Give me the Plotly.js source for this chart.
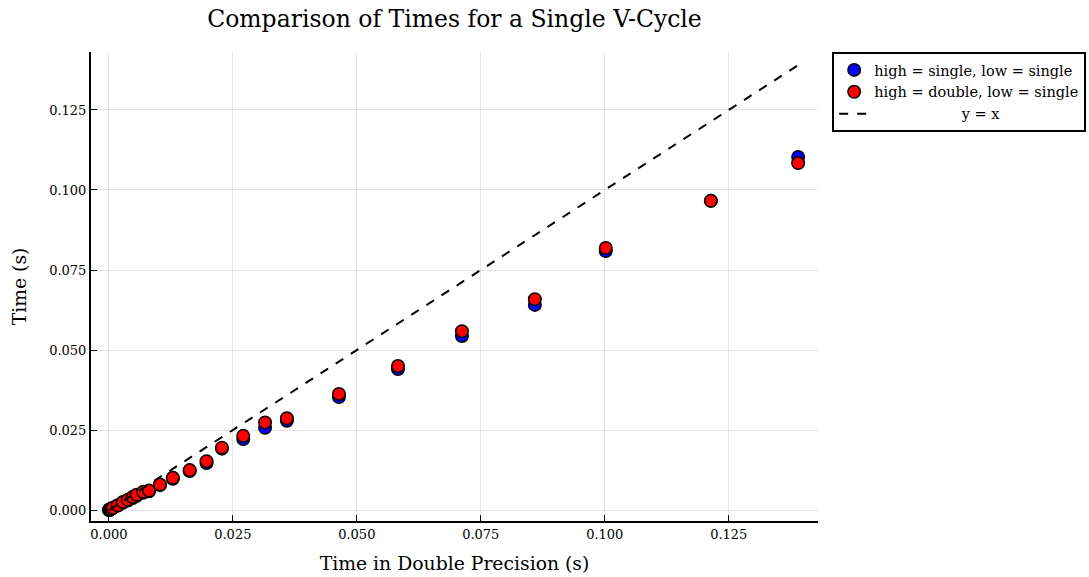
<!DOCTYPE html>
<html>
<head>
<meta charset="utf-8">
<script src="https://cdn.plot.ly/plotly-3.0.1.min.js"></script>
<style>html,body{margin:0;padding:0;background:#fff;}#chart{width:1089px;height:577px;}</style>
</head>
<body>
<div id="chart"></div>
<script>
// Time in double precision (s)
const xDouble = [0.00005, 0.0001, 0.0002, 0.0003, 0.0005, 0.0008, 0.0018, 0.0028, 0.0038, 0.0048, 0.0056, 0.0069, 0.0081, 0.0103, 0.0129, 0.0163, 0.0197, 0.0228, 0.0271, 0.0315, 0.0359, 0.0464, 0.0583, 0.0712, 0.0859, 0.1002, 0.1214, 0.1390];
// high = single, low = single
const ySingleSingle = [0.00005, 0.0001, 0.0002, 0.0003, 0.0004, 0.0007, 0.0014, 0.0023, 0.0030, 0.0038, 0.0045, 0.0054, 0.0059, 0.0078, 0.0098, 0.0122, 0.0147, 0.0192, 0.0222, 0.0257, 0.0279, 0.0353, 0.0441, 0.0544, 0.0641, 0.0809, 0.0966, 0.1103];
// high = double, low = single
const yDoubleSingle = [0.00005, 0.0001, 0.0002, 0.0003, 0.0004, 0.0007, 0.0015, 0.0025, 0.0032, 0.0041, 0.0048, 0.0057, 0.0061, 0.0080, 0.0101, 0.0125, 0.0153, 0.0195, 0.0232, 0.0274, 0.0287, 0.0363, 0.0450, 0.0559, 0.0659, 0.0819, 0.0966, 0.1084];
// reference line y = x
const lineX = [0, 0.1390];
const lineY = [0, 0.1390];
const tickVals = [0, 0.025, 0.05, 0.075, 0.1, 0.125];
const tickText = ["0.000", "0.025", "0.050", "0.075", "0.100", "0.125"];
const seriesNames = ["high = single, low = single", "high = double, low = single", "y = x"];

const FONT = "DejaVu Serif, serif";
const pad = "\u00a0".repeat(19);
const traces = [
  {x: xDouble, y: ySingleSingle, type: "scatter", mode: "markers", name: seriesNames[0],
   marker: {color: "#0000ff", size: 12.5, line: {color: "#000", width: 1.5}}},
  {x: xDouble, y: yDoubleSingle, type: "scatter", mode: "markers", name: seriesNames[1],
   marker: {color: "#ff0000", size: 12.5, line: {color: "#000", width: 1.5}}},
  {x: lineX, y: lineY, type: "scatter", mode: "lines", name: pad + seriesNames[2],
   line: {color: "#000", width: 2, dash: "dash"}}
];

const axisCommon = {
  showline: true, linecolor: "#000", linewidth: 2, mirror: false,
  showgrid: true, gridcolor: "rgba(0,0,0,0.1)", gridwidth: 1,
  zeroline: false, ticks: "inside", ticklen: 6, tickcolor: "#000", tickwidth: 1,
  tickvals: tickVals, ticktext: tickText,
  tickfont: {family: FONT, size: 13, color: "#000"}
};

const layout = {
  width: 1089, height: 577,
  paper_bgcolor: "#fff", plot_bgcolor: "#fff",
  margin: {l: 91, r: 271, t: 52, b: 56, autoexpand: false},
  title: {text: "Comparison of Times for a Single V-Cycle", x: 0.5, xref: "paper", y: 0.968, yref: "container", yanchor: "middle",
          font: {family: FONT, size: 23.5, color: "#000"}},
  xaxis: Object.assign({}, axisCommon, {range: [-0.0036, 0.1430],
    title: {text: "Time in Double Precision (s)", standoff: 16, font: {family: FONT, size: 18.8, color: "#000"}}}),
  yaxis: Object.assign({}, axisCommon, {range: [-0.0034, 0.1431],
    title: {text: "Time (s)", standoff: 18, font: {family: FONT, size: 18.8, color: "#000"}}}),
  showlegend: true,
  legend: {x: 1.0195, xanchor: "left", y: 1, yanchor: "top", bordercolor: "#000", borderwidth: 2,
           bgcolor: "#fff", font: {family: FONT, size: 14.5, color: "#000"}, tracegroupgap: 0,
           itemwidth: 30}
};

Plotly.newPlot("chart", traces, layout, {displayModeBar: false, staticPlot: true});
</script>
</body>
</html>
